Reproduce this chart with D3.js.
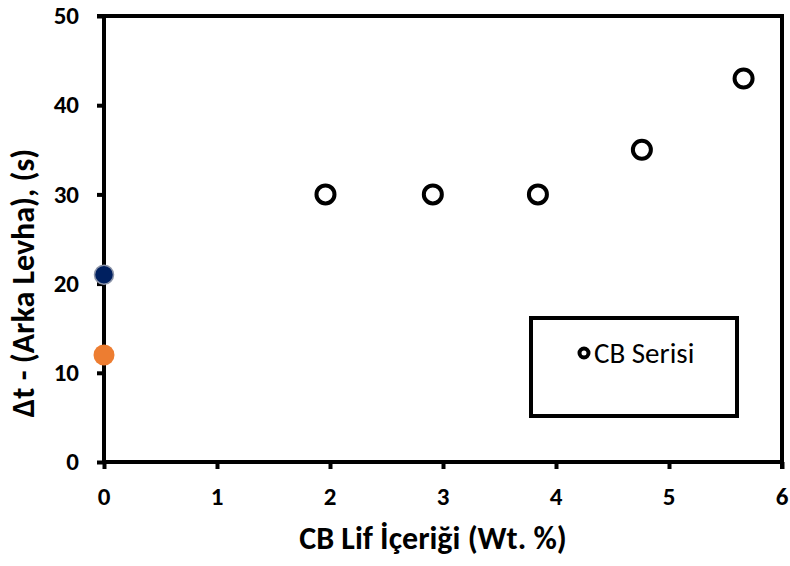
<!DOCTYPE html>
<html>
<head>
<meta charset="utf-8">
<script src="https://cdn.jsdelivr.net/npm/d3@7"></script>
<style>
  html, body { margin: 0; padding: 0; background: #fff; }
  svg { display: block; font-family: Carlito, Lato, "Open Sans", sans-serif; }
  .tick-label { font-size: 25px; font-weight: bold; fill: #000; }
</style>
</head>
<body>
<svg id="chart" width="790" height="566"></svg>
<script>
// CB fibre content (wt. %) vs. back-plate time difference
const cbContent = [1.96, 2.91, 3.84, 4.76, 5.66];
const cbDelta = [30, 30, 30, 35, 43];
// reference samples at zero fibre content
const refContent = [0, 0];
const refDelta = [21, 12];
const refColors = ["#002060", "#ED7D31"];
const xTicks = [0, 1, 2, 3, 4, 5, 6];
const yTicks = [0, 10, 20, 30, 40, 50];
const seriesName = "CB Serisi";
const xTitle = "CB Lif İçeriği (Wt. %)";
const yTitle = "Δt - (Arka Levha), (s)";

const svg = d3.select("#chart");
const m = { left: 104, right: 782, top: 16, bottom: 462 };

const x = d3.scaleLinear().domain([0, 6]).range([m.left, m.right]);
const y = d3.scaleLinear().domain([0, 50]).range([m.bottom, m.top]);

// frame lines (top and right)
svg.append("line").attr("x1", m.left - 7).attr("x2", m.right).attr("y1", m.top).attr("y2", m.top)
  .attr("stroke", "#000").attr("stroke-width", 4);
svg.append("line").attr("x1", m.right).attr("x2", m.right).attr("y1", m.top - 2).attr("y2", m.bottom + 7)
  .attr("stroke", "#000").attr("stroke-width", 4);

// axes: lines and tick marks from d3.axis, labels placed from the same scales
const xAxis = svg.append("g").attr("transform", `translate(0,${m.bottom})`)
  .call(d3.axisBottom(x).tickValues(xTicks).tickFormat("").tickSize(7).tickSizeOuter(0));
const yAxis = svg.append("g").attr("transform", `translate(${m.left},0)`)
  .call(d3.axisLeft(y).tickValues(yTicks).tickFormat("").tickSize(7).tickSizeOuter(0));

[xAxis, yAxis].forEach(g => {
  g.select(".domain").attr("stroke", "#000").attr("stroke-width", 4);
  g.selectAll(".tick line").attr("stroke", "#000").attr("stroke-width", 4);
});
xAxis.select(".domain").attr("d", `M${m.left - 2},0H${m.right + 2}`);
yAxis.select(".domain").attr("d", `M0,${m.top - 2}V${m.bottom + 2}`);

svg.append("g").selectAll("text").data(xTicks).join("text")
  .attr("class", "tick-label").attr("x", d => x(d)).attr("y", m.bottom + 43)
  .attr("text-anchor", "middle").text(d3.format("d"));
svg.append("g").selectAll("text").data(yTicks).join("text")
  .attr("class", "tick-label").attr("x", m.left - 25).attr("y", d => y(d)).attr("dy", "0.33em")
  .attr("text-anchor", "end").text(d3.format("d"));

// axis titles
svg.append("text").attr("x", 433).attr("y", 549).attr("text-anchor", "middle")
  .style("font-size", "32px").style("font-weight", "bold").text(xTitle);
svg.append("text").attr("transform", "translate(34,283) rotate(-90)").attr("text-anchor", "middle")
  .style("font-size", "32px").style("font-weight", "bold").text(yTitle);

// legend box
svg.append("rect").attr("x", 531).attr("y", 318).attr("width", 206).attr("height", 98)
  .attr("fill", "#fff").attr("stroke", "#000").attr("stroke-width", 4);
svg.append("circle").attr("cx", 584).attr("cy", 353).attr("r", 4.5)
  .attr("fill", "#fff").attr("stroke", "#000").attr("stroke-width", 4);
svg.append("text").attr("x", 594).attr("y", 363).style("font-size", "29px").text(seriesName);

// CB series: open circles
svg.append("g").selectAll("circle").data(cbContent).join("circle")
  .attr("cx", d => x(d)).attr("cy", (d, i) => y(cbDelta[i])).attr("r", 9)
  .attr("fill", "#fff").attr("stroke", "#000").attr("stroke-width", 4);

// reference points
svg.append("g").selectAll("circle").data(refContent).join("circle")
  .attr("cx", d => x(d)).attr("cy", (d, i) => y(refDelta[i])).attr("r", (d, i) => i === 0 ? 9.5 : 10.5)
  .attr("fill", (d, i) => refColors[i])
  .attr("stroke", (d, i) => i === 0 ? "#8c94a8" : "none").attr("stroke-width", 1.5);
</script>
</body>
</html>
